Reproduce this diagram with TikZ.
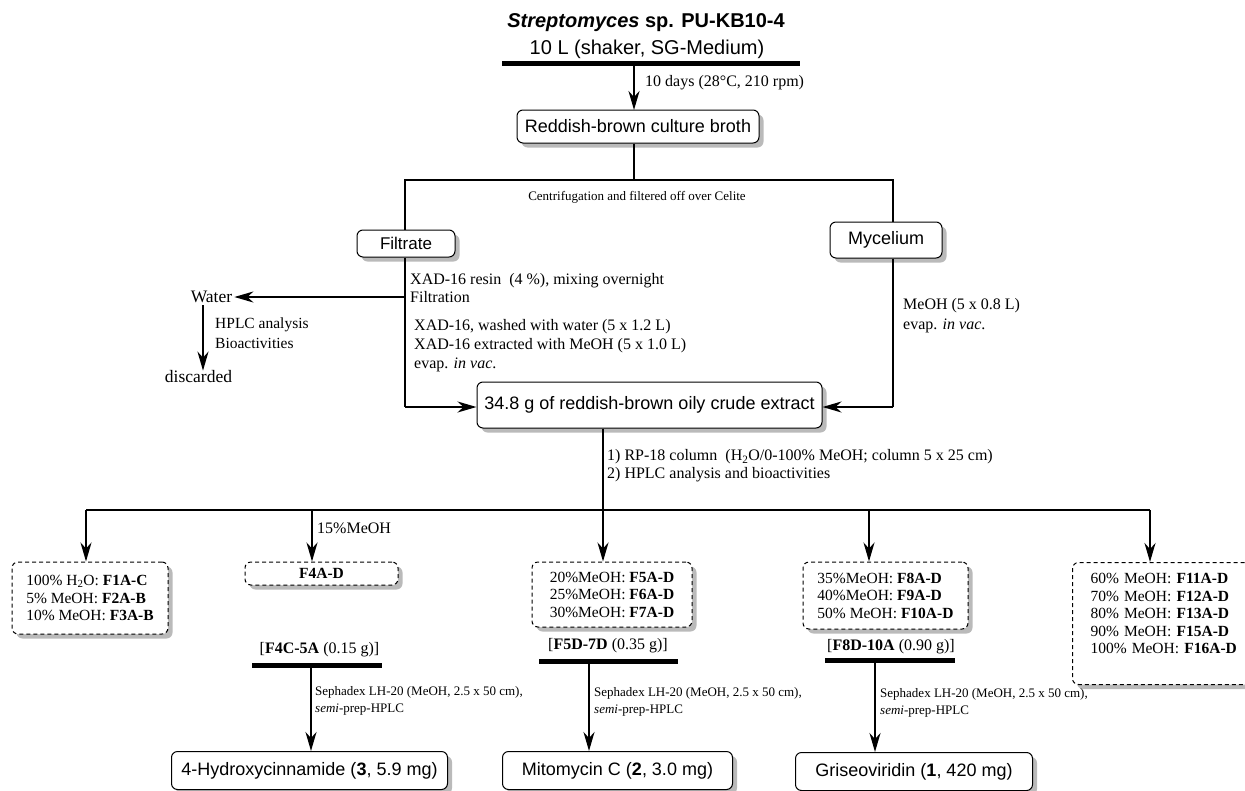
\documentclass[tikz,border=0pt]{standalone}
\usepackage{fontspec}
\setmainfont{Liberation Serif}
\setsansfont{Liberation Sans}
\usetikzlibrary{positioning,arrows.meta,shadows}

\tikzset{
  stage/.style={draw, line width=1pt, rounded corners=6pt, fill=white,
    general shadow={fill=black!27, shadow xshift=4.5pt, shadow yshift=-4.5pt},
    font=\sffamily\fontsize{18}{21}\selectfont, inner xsep=6pt,
    minimum height=36pt},
  frac/.style={draw, line width=1pt, dash pattern=on 4pt off 3pt,
    rounded corners=6pt, fill=white,
    general shadow={fill=black!27, shadow xshift=4.5pt, shadow yshift=-4.5pt},
    font=\fontsize{15.5}{17.5}\selectfont, align=left},
  note/.style={font=\fontsize{16}{19}\selectfont, align=left, inner sep=0pt},
  small/.style={font=\fontsize{13}{17}\selectfont, align=left, inner sep=0pt},
  link/.style={line width=1.2pt},
  arr/.style={line width=2pt, -{Stealth[length=19pt, width=11pt, inset=6pt]}},
  bar/.style={fill=black, inner sep=0pt, minimum height=5pt},
}

\begin{document}
\begin{tikzpicture}[x=1pt, y=-1pt]
  \useasboundingbox (0,0) rectangle (1245,790);

  % culture
  \node[font=\sffamily\bfseries\fontsize{20}{22}\selectfont] (strain) at (646,23)
       {\textit{Streptomyces} sp. PU-KB10-4};
  \node[font=\sffamily\fontsize{20}{22}\selectfont] (medium) at (647,49)
       {10 L (shaker, SG-Medium)};
  \node[bar, minimum width=298pt] (bar0) at (651,63.5) {};
  \node[stage, minimum width=242pt, minimum height=33pt] (broth) at (638,126.5) {Reddish-brown culture broth};
  \node[note, anchor=west] (days) at (645,83) {10 days (28°C, 210 rpm)};
  \draw[arr] (bar0.south -| 634,0) -- (634,110);

  % work-up
  \coordinate (split) at (634,180);
  \coordinate (mtop) at (893,180);
  \node[font=\fontsize{13}{15}\selectfont] (centr) at (637,197) {Centrifugation and filtered off over Celite};
  \node[stage, minimum width=98pt, minimum height=27pt, inner ysep=0pt,
        font=\sffamily\fontsize{17}{20}\selectfont] (filt) at (406,243.5) {Filtrate};
  \node[stage, minimum width=112pt] (myc) at (886,240) {Mycelium};
  \draw[link] (broth.south -| split) -- (split);
  \draw[link] (filt.north -| 405,0) |- (mtop) -- (mtop |- myc.north);

  \node[stage, minimum width=345pt, minimum height=46pt] (crude) at (649.5,405)
       {34.8 g of reddish-brown oily crude extract};
  \coordinate (fcorner) at (405,407);
  \coordinate (mcorner) at (mtop |- fcorner);
  \draw[link] (filt.south -| fcorner) -- (fcorner);
  \draw[link] (myc.south -| mcorner) -- (mcorner);
  \draw[arr] (fcorner) -- (fcorner -| crude.west);
  \draw[arr] (mcorner) -- (mcorner -| crude.east);

  \node[note, anchor=north west, font=\fontsize{16}{18}\selectfont] (resin) at (410,273.5)
       {XAD-16 resin\ \ (4 \%), mixing overnight\\Filtration};
  \node[note, anchor=north west] (wash) at (414,319.5)
       {XAD-16, washed with water (5 x 1.2 L)\\XAD-16 extracted with MeOH (5 x 1.0 L)\\evap. \textit{in vac}.};
  \node[note, anchor=north west, font=\fontsize{16}{20}\selectfont] (myext) at (903,298.5)
       {MeOH (5 x 0.8 L)\\evap. \textit{in vac}.};

  % aqueous phase
  \node[note, font=\fontsize{17.5}{20}\selectfont, inner sep=2pt] (water) at (211.5,297) {Water};
  \node[note, font=\fontsize{17.5}{20}\selectfont] (disc) at (198.5,377) {discarded};
  \node[note, anchor=west, font=\fontsize{15.5}{20}\selectfont] (hplc) at (215,333) {HPLC analysis\\Bioactivities};
  \draw[arr] (fcorner |- water.east) -- (water.east);
  \draw[arr] ([xshift=-8.5pt]water.south) -- ([xshift=-8.5pt]water.south |- disc.north);

  % RP-18 fractions
  \node[note, anchor=north west, font=\fontsize{16}{18}\selectfont] (rp) at (607,449.5)
       {1) RP-18 column\ \ (H\textsubscript{2}O/0-100\% MeOH; column 5 x 25 cm)\\2) HPLC analysis and bioactivities};
  \coordinate (h1) at (86,510);
  \coordinate (h2) at (312,510);
  \coordinate (h3) at (603,510);
  \coordinate (h4) at (869,510);
  \coordinate (h5) at (1150,510);

  \node[frac, minimum width=156pt, minimum height=72pt] (f1) at (90,598)
       {100\% H\textsubscript{2}O: \textbf{F1A-C}\\5\% MeOH: \textbf{F2A-B}\\10\% MeOH: \textbf{F3A-B}};
  \node[frac, minimum width=153pt, minimum height=23pt, inner ysep=0pt] (f4) at (321.5,573.5) {\textbf{F4A-D}};
  \node[frac, minimum width=160pt, minimum height=65pt] (f5) at (612,594.5)
       {20\%MeOH: \textbf{F5A-D}\\25\%MeOH: \textbf{F6A-D}\\30\%MeOH: \textbf{F7A-D}};
  \node[frac, minimum width=165pt, minimum height=67pt] (f8) at (885.5,595.5)
       {35\%MeOH: \textbf{F8A-D}\\40\%MeOH: \textbf{F9A-D}\\50\% MeOH: \textbf{F10A-D}};
  \node[frac, anchor=north west, text width=170pt, inner xsep=18pt, minimum height=122pt] (f11) at (1072,562)
       {60\% MeOH: \textbf{F11A-D}\\70\% MeOH: \textbf{F12A-D}\\80\% MeOH: \textbf{F13A-D}\\90\% MeOH: \textbf{F15A-D}\\100\% MeOH: \textbf{F16A-D}\\[2pt]\mbox{}};
  \node[note, anchor=west] (m15) at (317,528) {15\%MeOH};

  \draw[link] (h1) -- (h5);
  \draw[arr] (crude.south -| h3) -- (h3 |- f5.north);
  \draw[arr] (h1) -- (h1 |- f1.north);
  \draw[arr] (h2) -- (h2 |- f4.north);
  \draw[arr] (h4) -- (h4 |- f8.north);
  \draw[arr] (h5) -- (h5 |- f11.north);

  % purification
  \node[note] (lbl1) at (319.5,650) {[\textbf{F4C-5A} (0.15 g)]};
  \node[bar, minimum width=130pt] (bar1) at (317,665) {};
  \node[stage, anchor=north west, minimum width=276pt, minimum height=38pt] (res1) at (171,751) {4-Hydroxycinnamide (\textbf{3}, 5.9 mg)};
  \node[small, anchor=west] (seph1) at (315,700.5) {Sephadex LH-20 (MeOH, 2.5 x 50 cm),\\\textit{semi}-prep-HPLC};
  \draw[arr] ([xshift=-6pt]bar1.south) -- ([xshift=-6pt]bar1.south |- res1.north);

  \node[note] (lbl2) at (608,646) {[\textbf{F5D-7D} (0.35 g)]};
  \node[bar, minimum width=139pt] (bar2) at (608.5,661) {};
  \node[stage, anchor=north west, minimum width=230pt, minimum height=38pt] (res2) at (502,751) {Mitomycin C (\textbf{2}, 3.0 mg)};
  \node[small, anchor=west] (seph2) at (594,701.5) {Sephadex LH-20 (MeOH, 2.5 x 50 cm),\\\textit{semi}-prep-HPLC};
  \draw[arr] ([xshift=-19.5pt]bar2.south) -- ([xshift=-19.5pt]bar2.south |- res2.north);

  \node[note] (lbl3) at (891,647) {[\textbf{F8D-10A} (0.90 g)]};
  \node[bar, minimum width=130pt] (bar3) at (890,660) {};
  \node[stage, anchor=north west, minimum width=237pt, minimum height=38pt] (res3) at (795,752) {Griseoviridin (\textbf{1}, 420 mg)};
  \node[small, anchor=west] (seph3) at (880,703) {Sephadex LH-20 (MeOH, 2.5 x 50 cm),\\\textit{semi}-prep-HPLC};
  \draw[arr] ([xshift=-15pt]bar3.south) -- ([xshift=-15pt]bar3.south |- res3.north);
\end{tikzpicture}
\end{document}
